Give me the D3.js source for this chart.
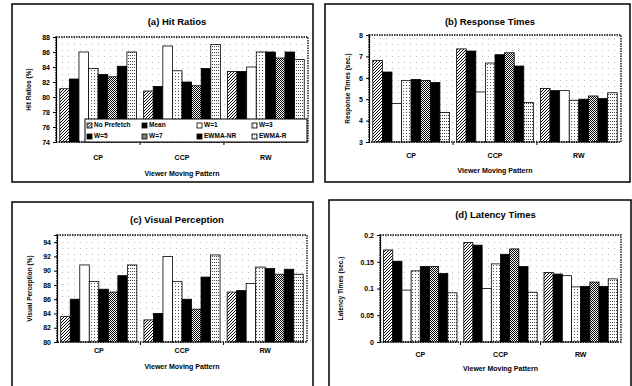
<!DOCTYPE html>
<html><head><meta charset="utf-8">
<script src="https://cdn.jsdelivr.net/npm/d3@7"></script>
<style>body{margin:0;background:#fff}svg{display:block}text{font-family:"Liberation Sans",Arial,sans-serif;font-weight:bold;fill:#000}</style>
</head><body><svg id="c" width="632" height="386"></svg>
<script>
const categories = ["CP", "CCP", "RW"];
const seriesNames = ["No Prefetch", "Mean", "W=1", "W=3", "W=5", "W=7", "EWMA-NR", "EWMA-R"];
// values per category, in series order
const hitRatios = [
  [81.1, 82.4, 86.0, 83.8, 83.0, 82.7, 84.1, 86.0],
  [80.8, 81.4, 86.8, 83.5, 82.0, 81.5, 83.8, 87.0],
  [83.4, 83.4, 84.0, 86.0, 86.0, 85.2, 86.0, 85.0]];
const responseTimes = [
  [6.81, 6.27, 4.80, 5.88, 5.92, 5.88, 5.78, 4.38],
  [7.35, 7.25, 5.34, 6.69, 7.08, 7.17, 6.55, 4.85],
  [5.50, 5.40, 5.40, 4.95, 5.00, 5.15, 5.03, 5.30]];
const visualPerception = [
  [83.6, 86.0, 90.8, 88.5, 87.4, 87.0, 89.3, 90.8],
  [83.1, 84.0, 92.0, 88.5, 86.0, 84.6, 89.1, 92.2],
  [87.0, 87.2, 88.2, 90.5, 90.3, 89.5, 90.2, 89.5]];
const latencyTimes = [
  [0.172, 0.151, 0.097, 0.133, 0.141, 0.141, 0.128, 0.092],
  [0.186, 0.181, 0.100, 0.146, 0.164, 0.174, 0.141, 0.093],
  [0.130, 0.127, 0.124, 0.103, 0.104, 0.112, 0.104, 0.118]];
const hitTicks = [74, 76, 78, 80, 82, 84, 86, 88];
const respTicks = [3, 4, 5, 6, 7, 8];
const visTicks = [80, 82, 84, 86, 88, 90, 92, 94];
const latTicks = [0, 0.05, 0.1, 0.15, 0.2];

const svg = d3.select("#c");
const defs = svg.append("defs");
// patterns
function pat(id, w, h, draw) {
  const p = defs.append("pattern").attr("id", id).attr("patternUnits", "userSpaceOnUse").attr("width", w).attr("height", h);
  p.append("rect").attr("width", w).attr("height", h).attr("fill", "#fff");
  draw(p);
}
pat("hatch", 3, 3, p => {
  p.append("path").attr("d", "M-1,1 L1,-1 M0,3 L3,0 M2,4 L4,2").attr("stroke", "#000").attr("stroke-width", 1);
});
pat("dots", 3, 3, p => { p.append("rect").attr("x", 1).attr("y", 1).attr("width", 1).attr("height", 1).attr("fill", "#555"); });
pat("dots2", 2, 3, p => { p.append("rect").attr("x", 0).attr("y", 1).attr("width", 1).attr("height", 1).attr("fill", "#444"); });
pat("check", 2, 2, p => {
  p.append("rect").attr("x", 0).attr("y", 0).attr("width", 1).attr("height", 1).attr("fill", "#000");
  p.append("rect").attr("x", 1).attr("y", 1).attr("width", 1).attr("height", 1).attr("fill", "#000");
});
pat("bgdots", 6, 6, p => {
  p.select("rect").attr("fill", "none");
  p.append("rect").attr("x", 2).attr("y", 2).attr("width", 1).attr("height", 1).attr("fill", "#bbb");
});
const fills = ["url(#hatch)", "#000", "#fff", "url(#dots)", "#000", "url(#check)", "#000", "url(#dots2)"];

const panels = [
  {title: "(a) Hit Ratios", ylab: "Hit Ratios (%)", data: hitRatios, ticks: hitTicks, dom: [74, 88], fmt: d => d,
   box: [12, 4, 313, 182], pl: 56, pt: 37, pr: 308, pb: 142, ty: 22, ytx: 29, cy: 158, xy: 174, legend: true},
  {title: "(b) Response Times", ylab: "Response Times (sec.)", data: responseTimes, ticks: respTicks, dom: [3, 8], fmt: d => d,
   box: [325, 4, 630, 182], pl: 369, pt: 35, pr: 621, pb: 142, ty: 22, ytx: 348, cy: 156, xy: 171},
  {title: "(c) Visual Perception", ylab: "Visual Perception (%)", data: visualPerception, ticks: visTicks, dom: [80, 95], fmt: d => d,
   box: [12, 202, 313, 392], pl: 57, pt: 235, pr: 307, pb: 342, ty: 220, ytx: 30, cy: 351, xy: 367},
  {title: "(d) Latency Times", ylab: "Latency Times (sec.)", data: latencyTimes, ticks: latTicks, dom: [0, 0.2], fmt: d => d3.format("~g")(d),
   box: [329, 200, 631, 392], pl: 380, pt: 235, pr: 621, pb: 342, ty: 215, ytx: 341, cy: 355, xy: 369}
];

panels.forEach(P => {
  const g = svg.append("g");
  g.append("rect").attr("x", P.box[0]).attr("y", P.box[1]).attr("width", P.box[2] - P.box[0]).attr("height", P.box[3] - P.box[1])
    .attr("fill", "none").attr("stroke", "#000").attr("stroke-width", 1.5);
  const x0 = d3.scaleBand().domain(categories).range([P.pl, P.pr]).paddingInner(0.085).paddingOuter(0.045);
  const x1 = d3.scaleBand().domain(seriesNames).range([0, x0.bandwidth()]);
  const y = d3.scaleLinear().domain(P.dom).range([P.pb, P.pt]);
  g.append("rect").attr("x", P.pl).attr("y", P.pt).attr("width", P.pr - P.pl).attr("height", P.pb - P.pt).attr("fill", "url(#bgdots)");
  categories.forEach((c, ci) => {
    g.append("g").selectAll("rect").data(P.data[ci]).join("rect")
      .attr("x", (d, i) => x0(c) + x1(seriesNames[i]))
      .attr("y", d => y(d)).attr("width", x1.bandwidth()).attr("height", d => y(P.dom[0]) - y(d))
      .attr("fill", (d, i) => fills[i]).attr("stroke", "#000").attr("stroke-width", 0.8);
  });
  g.append("rect").attr("x", P.pl).attr("y", P.pt).attr("width", P.pr - P.pl).attr("height", P.pb - P.pt)
    .attr("fill", "none").attr("stroke", "#000").attr("stroke-width", 1.3).attr("stroke-dasharray", "1.5,1");
  const ya = g.append("g").attr("transform", `translate(${P.pl},0)`)
    .call(d3.axisLeft(y).tickValues(P.ticks).tickFormat(P.fmt).tickSize(3).tickPadding(3));
  ya.select(".domain").attr("stroke-width", 1.2);
  ya.selectAll("text").style("font-size", "7px").style("font-weight", "bold").style("font-family", '"Liberation Sans",Arial,sans-serif');
  // category boundary ticks
  const bounds = categories.slice(1).map(c => x0(c) - x0.step() * x0.paddingInner() / 2);
  g.append("g").selectAll("line").data(bounds).join("line")
    .attr("x1", d => d).attr("x2", d => d).attr("y1", P.pb).attr("y2", P.pb + 3).attr("stroke", "#000");
  g.append("g").selectAll("text").data(categories).join("text")
    .attr("x", c => x0(c) + x0.bandwidth() / 2).attr("y", P.cy).attr("text-anchor", "middle").attr("dominant-baseline", "middle")
    .style("font-size", "7px").text(c => c);
  g.append("text").attr("x", (P.pl + P.pr) / 2).attr("y", P.xy).attr("text-anchor", "middle").attr("dominant-baseline", "middle")
    .style("font-size", "7px").text("Viewer Moving Pattern");
  g.append("text").attr("x", (P.pl + P.pr) / 2 - 5).attr("y", P.ty).attr("text-anchor", "middle").attr("dominant-baseline", "middle")
    .style("font-size", "9.5px").text(P.title);
  g.append("text").attr("transform", `translate(${P.ytx},${(P.pt + P.pb) / 2}) rotate(-90)`).attr("text-anchor", "middle")
    .attr("dominant-baseline", "middle").style("font-size", "6.5px").text(P.ylab);
  if (P.legend) {
    const lg = g.append("g");
    lg.append("rect").attr("x", 85).attr("y", 119).attr("width", 222).attr("height", 23).attr("fill", "#fff").attr("stroke", "#000").attr("stroke-width", 1);
    const lx = d3.scaleBand().domain(d3.range(4)).range([87, 307]);
    const items = lg.selectAll("g").data(seriesNames).join("g")
      .attr("transform", (d, i) => `translate(${lx(i % 4)},${i < 4 ? 125.5 : 136.5})`);
    items.append("rect").attr("x", 0).attr("y", -2.5).attr("width", 5).attr("height", 5)
      .attr("fill", (d, i) => fills[i]).attr("stroke", "#000").attr("stroke-width", 0.8);
    items.append("text").attr("x", 7).attr("y", 0).attr("dominant-baseline", "middle").style("font-size", "6.5px").text(d => d);
  }
});
</script></body></html>
